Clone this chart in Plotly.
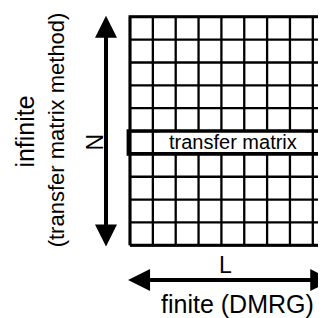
import plotly.graph_objects as go

# ---- diagram data ----
n_cols = 10                 # lattice columns (L direction, grid continues past the right edge)
n_rows = 10                 # lattice rows (N direction)
transfer_row = 4            # row index (from bottom) of highlighted transfer-matrix row
grid_cols = list(range(n_cols + 1))
grid_rows = list(range(n_rows + 1))

row_label = "transfer matrix"
n_label = "N"
l_label = "L"
x_label = "finite (DMRG)"
y_label_1 = "infinite"
y_label_2 = "(transfer matrix method)"

# axis window (data units = lattice spacings); page body has an 8px margin
x_range = [-5.339, 8.928]
y_range = [-3.532, 10.385]

FONT = "Liberation Sans, Arial, sans-serif"

fig = go.Figure()

# interior grid lines
xs, ys = [], []
for c in grid_cols:
    xs += [c, c, None]
    ys += [grid_rows[0], grid_rows[-1], None]
for r in grid_rows:
    xs += [grid_cols[0], grid_cols[-1], None]
    ys += [r, r, None]
fig.add_trace(go.Scatter(x=xs, y=ys, mode="lines",
                         line=dict(color="black", width=2.3),
                         hoverinfo="skip", showlegend=False))

# outer border
x0, x1 = grid_cols[0], grid_cols[-1]
y0, y1 = grid_rows[0], grid_rows[-1]
fig.add_trace(go.Scatter(x=[x0, x1, x1, x0, x0], y=[y0, y0, y1, y1, y0], mode="lines",
                         line=dict(color="black", width=3),
                         hoverinfo="skip", showlegend=False))

# white background behind the row label
label_cx = 4.49
label_half = 3.17
fig.add_shape(type="rect", xref="x", yref="y",
              x0=label_cx - label_half, x1=label_cx + label_half,
              y0=transfer_row, y1=transfer_row + 1,
              fillcolor="white", line=dict(width=0), layer="above")
# highlighted transfer-matrix row
fig.add_shape(type="rect", xref="x", yref="y",
              x0=x0 - 0.07, x1=x1, y0=transfer_row, y1=transfer_row + 1,
              fillcolor="rgba(0,0,0,0)", line=dict(color="black", width=3.6),
              layer="above")

annotations = [
    dict(x=label_cx, y=transfer_row + 0.5, text=row_label, showarrow=False,
         font=dict(family=FONT, size=20, color="black")),
    dict(x=-1.55, y=transfer_row + 0.52, text=n_label, showarrow=False, textangle=-90,
         font=dict(family=FONT, size=23, color="black")),
    dict(x=4.16, y=-0.88, text=l_label, showarrow=False,
         font=dict(family=FONT, size=23, color="black")),
    dict(x=4.70, y=-2.55, text=x_label, showarrow=False,
         font=dict(family=FONT, size=25, color="black")),
    dict(x=-4.60, y=4.97, text=y_label_1, showarrow=False, textangle=-90,
         font=dict(family=FONT, size=25, color="black")),
    dict(x=-3.22, y=5.05, text=y_label_2, showarrow=False, textangle=-90,
         font=dict(family=FONT, size=22, color="black")),
    # vertical double arrow (N)
    dict(x=-1.05, y=y1 + 0.05, ax=-1.05, ay=y0 - 0.12, xref="x", yref="y",
         axref="x", ayref="y", text="", showarrow=True, arrowside="end+start",
         arrowhead=2, startarrowhead=2, arrowsize=1.1, startarrowsize=1.1,
         arrowwidth=4, arrowcolor="black"),
    # horizontal double arrow (L)
    dict(x=8.85, y=-1.52, ax=x0 - 0.15, ay=-1.52, xref="x", yref="y",
         axref="x", ayref="y", text="", showarrow=True, arrowside="end+start",
         arrowhead=2, startarrowhead=2, arrowsize=1.1, startarrowsize=1.1,
         arrowwidth=4, arrowcolor="black"),
]

fig.update_layout(
    width=326, height=318,
    margin=dict(l=0, r=0, t=0, b=0),
    paper_bgcolor="white", plot_bgcolor="white",
    xaxis=dict(range=x_range, visible=False, fixedrange=True),
    yaxis=dict(range=y_range, visible=False, fixedrange=True),
    annotations=annotations,
    showlegend=False,
)

fig.write_html("out.html")
